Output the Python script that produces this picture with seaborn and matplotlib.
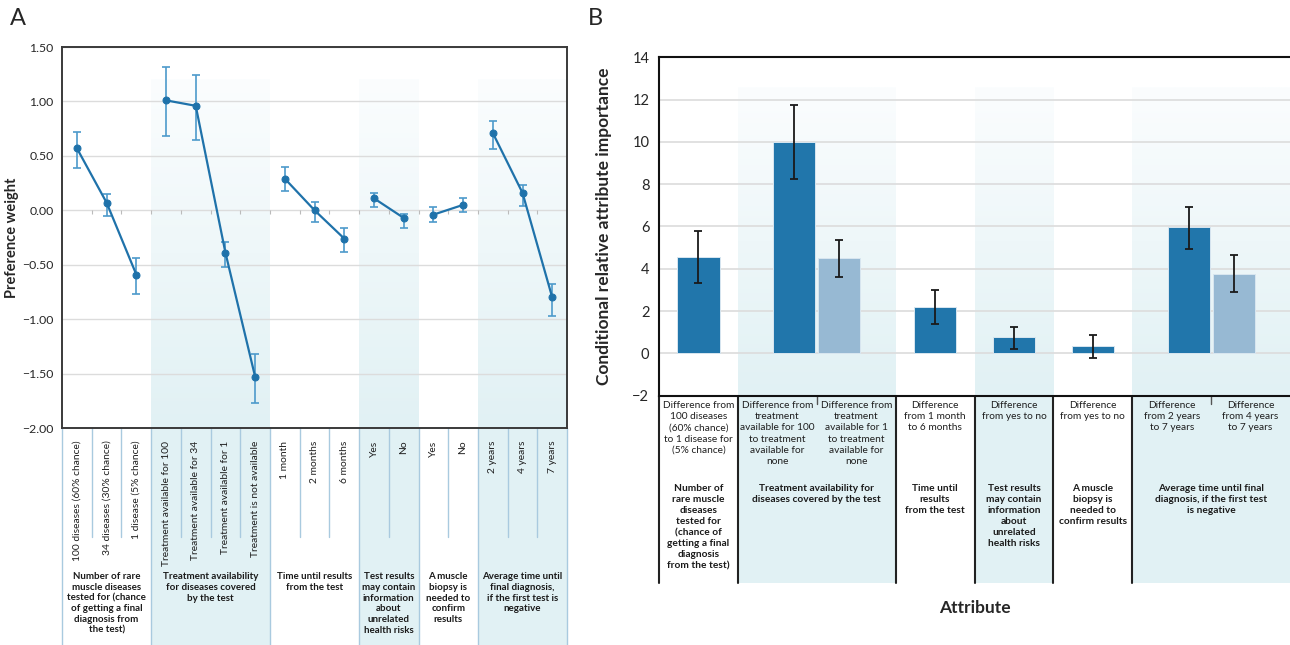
import numpy as np
import pandas as pd
import seaborn as sns
import matplotlib.pyplot as plt
from matplotlib.colors import LinearSegmentedColormap
from matplotlib.patches import Rectangle
from matplotlib.ticker import FuncFormatter

# ---- Panel A: preference weights (point estimate, 95% CI)
levels_a = ['100 diseases (60% chance)', '34 diseases (30% chance)', '1 disease (5% chance)',
            'Treatment available for 100', 'Treatment available for 34',
            'Treatment available for 1', 'Treatment is not available',
            '1 month', '2 months', '6 months',
            'Yes', 'No',
            'Yes', 'No',
            '2 years', '4 years', '7 years']
weight_a = [0.57, 0.07, -0.59, 1.01, 0.96, -0.39, -1.53, 0.29, 0.00, -0.26,
            0.11, -0.07, -0.04, 0.05, 0.71, 0.16, -0.80]
lo_a = [0.39, -0.05, -0.77, 0.68, 0.65, -0.52, -1.77, 0.18, -0.11, -0.38,
        0.03, -0.16, -0.11, -0.02, 0.56, 0.04, -0.97]
hi_a = [0.72, 0.15, -0.44, 1.32, 1.24, -0.29, -1.32, 0.40, 0.08, -0.16,
        0.16, -0.03, 0.03, 0.11, 0.82, 0.23, -0.68]

groups_a = ['Number of rare\nmuscle diseases\ntested for (chance\nof getting a final\ndiagnosis from\nthe test)',
            'Treatment availability\nfor diseases covered\nby the test',
            'Time until results\nfrom the test',
            'Test results\nmay contain\ninformation\nabout\nunrelated\nhealth risks',
            'A muscle\nbiopsy is\nneeded to\nconfirm\nresults',
            'Average time until\nfinal diagnosis,\nif the first test is\nnegative']
group_sizes_a = [3, 4, 3, 2, 2, 3]
shaded = [False, True, False, True, False, True]

# ---- Panel B: conditional relative attribute importance
diff_labels = ['Difference from\n100 diseases\n(60% chance)\nto 1 disease for\n(5% chance)',
               'Difference from\ntreatment\navailable for 100\nto treatment\navailable for\nnone',
               'Difference from\ntreatment\navailable for 1\nto treatment\navailable for\nnone',
               'Difference\nfrom 1 month\nto 6 months',
               'Difference\nfrom yes to no',
               'Difference\nfrom yes to no',
               'Difference\nfrom 2 years\nto 7 years',
               'Difference\nfrom 4 years\nto 7 years']
imp_val = [4.57, 10.01, 4.49, 2.20, 0.76, 0.35, 5.96, 3.75]
imp_lo = [3.33, 8.26, 3.62, 1.39, 0.19, -0.24, 4.92, 2.90]
imp_hi = [5.79, 11.76, 5.35, 3.00, 1.26, 0.87, 6.94, 4.64]
bar_shade = ['dark', 'dark', 'light', 'dark', 'dark', 'dark', 'dark', 'light']
groups_b = ['Number of\nrare muscle\ndiseases\ntested for\n(chance of\ngetting a final\ndiagnosis\nfrom the test)',
            'Treatment availability for\ndiseases covered by the test',
            'Time until\nresults\nfrom the test',
            'Test results\nmay contain\ninformation\nabout\nunrelated\nhealth risks',
            'A muscle\nbiopsy is\nneeded to\nconfirm results',
            'Average time until final\ndiagnosis, if the first test\nis negative']
group_sizes_b = [1, 2, 1, 1, 1, 2]

blue = '#1f72aa'
err_blue = '#4d9acb'
teal = '#e1f1f4'
div_col = '#a9cadf'

sns.set_style('white')
plt.rcParams['font.family'] = ['Lato', 'DejaVu Sans']

shade_cmap = LinearSegmentedColormap.from_list('shade', ['#fbfdfe', teal])
grad = np.linspace(0, 1, 256).reshape(-1, 1)


def shade_column(ax, x0, x1, ytop, ybot, depth):
    ax.imshow(grad, extent=[x0, x1, ybot, ytop], cmap=shade_cmap, aspect='auto',
              origin='upper', zorder=0, interpolation='bilinear')
    ax.add_patch(Rectangle((x0, -depth), x1 - x0, depth, transform=ax.get_xaxis_transform(),
                           facecolor=teal, lw=0, clip_on=False, zorder=0))


fig = plt.figure(figsize=(12.9, 6.45), dpi=100)

# ================= Panel A =================
axa = fig.add_axes([0.0481, 0.3364, 0.3915, 0.5907])
pos_a = np.arange(len(levels_a))
attr_a = np.repeat(np.arange(len(group_sizes_a)), group_sizes_a)
df_a = pd.DataFrame({'pos': pos_a, 'weight': weight_a, 'attr': attr_a})

starts_a = np.concatenate([[0], np.cumsum(group_sizes_a)[:-1]])
depth_a = 0.5696
for s, n, sh in zip(starts_a, group_sizes_a, shaded):
    if sh:
        shade_column(axa, s - 0.5, s + n - 0.5, 1.2, -2.0, depth_a)

axa.errorbar(pos_a, weight_a, yerr=[np.array(weight_a) - np.array(lo_a), np.array(hi_a) - np.array(weight_a)],
             fmt='none', ecolor=err_blue, elinewidth=1.2, capsize=2.6, capthick=1.2, zorder=3)
sns.lineplot(data=df_a, x='pos', y='weight', hue='attr', palette=[blue] * len(group_sizes_a),
             marker='o', markersize=5, markeredgecolor=blue, linewidth=1.6, legend=False,
             ax=axa, zorder=4)

axa.set_xlim(-0.5, len(levels_a) - 0.5)
axa.set_ylim(-2.0, 1.5)
axa.set_yticks(np.arange(-2.0, 1.51, 0.5))
axa.yaxis.set_major_formatter(FuncFormatter(lambda v, p: f'{v:.2f}'.replace('-', '\u2212')))
axa.grid(axis='y', color='#dcdcdc', lw=1)
axa.set_axisbelow(True)
axa.tick_params(axis='y', labelsize=8.8, length=4, width=1, color='#333333', direction='out', pad=2)
axa.set_xticks(pos_a)
axa.set_xticklabels(levels_a, rotation=90, fontsize=7.4, color='#1e1e1e')
axa.tick_params(axis='x', length=0, pad=9)
axa.set_xlabel('')
axa.set_ylabel('Preference weight', fontsize=10.5, fontweight='bold')
axa.yaxis.set_label_coords(-0.086, 0.5)
for sp in axa.spines.values():
    sp.set_color('#3a3a3a')
    sp.set_linewidth(1.4)

# small marks on the zero line between levels
axa.vlines(pos_a[1:] - 0.5, -0.035, 0, color='#bbbbbb', lw=0.8, zorder=1)

# dividers below the axis
trans_a = axa.get_xaxis_transform()
for k in range(len(levels_a) + 1):
    xk = k - 0.5
    if k in list(starts_a) + [len(levels_a)]:
        axa.plot([xk, xk], [0, -depth_a], transform=trans_a, color=div_col, lw=1, clip_on=False)
    else:
        axa.plot([xk, xk], [0, -0.286], transform=trans_a, color=div_col, lw=1, clip_on=False)

for s, n, g in zip(starts_a, group_sizes_a, groups_a):
    axa.text(s + n / 2 - 0.5, -0.378, g, transform=trans_a, ha='center', va='top',
             fontsize=7.0, fontweight='bold', linespacing=1.25, color='#1a1a1a')

# ================= Panel B =================
axb = fig.add_axes([0.5109, 0.3865, 0.4891, 0.5247])
starts_b = np.concatenate([[0], np.cumsum(group_sizes_b)[:-1]])
bar_pos = []
for s, n in zip(starts_b, group_sizes_b):
    if n == 1:
        bar_pos.append(s + 0.5)
    else:
        bar_pos += [s + 1 - 0.285, s + 1 + 0.285]
bar_pos = np.array(bar_pos)
depth_b = 0.554
for s, n, sh in zip(starts_b, group_sizes_b, shaded):
    if sh:
        shade_column(axb, s, s + n, 12.6, -2.0, depth_b)

df_b = pd.DataFrame({'pos': bar_pos, 'importance': imp_val, 'shade': bar_shade})
native_w = np.min(np.diff(np.sort(bar_pos)))
sns.barplot(data=df_b, x='pos', y='importance', hue='shade', palette={'dark': '#2176ab', 'light': '#97b9d3'},
            native_scale=True, width=0.535 / native_w, dodge=False, errorbar=None, legend=False,
            saturation=1, edgecolor='#d8e6f0', linewidth=0.7, ax=axb, zorder=2)
axb.errorbar(bar_pos, imp_val, yerr=[np.array(imp_val) - np.array(imp_lo), np.array(imp_hi) - np.array(imp_val)],
             fmt='none', ecolor='#1a1a1a', elinewidth=1.3, capsize=3, capthick=1.3, zorder=4)

n_cols = sum(group_sizes_b)
axb.set_xlim(0, n_cols)
axb.set_ylim(-2, 14)
axb.set_yticks(np.arange(-2, 15, 2))
axb.yaxis.set_major_formatter(FuncFormatter(lambda v, p: f'{v:.0f}'.replace('-', '\u2212')))
axb.grid(axis='y', color='#dcdcdc', lw=1.2)
axb.set_axisbelow(True)
axb.tick_params(axis='y', labelsize=10.5, length=5, width=1.2, color='#111111', direction='out', pad=2)
axb.set_xticks(np.arange(n_cols) + 0.5)
axb.set_xticklabels(diff_labels, fontsize=7.3, color='#1e1e1e')
for t in axb.get_xticklabels():
    t.set_linespacing(1.3)
    t.set_va('top')
axb.tick_params(axis='x', length=0, pad=4)
axb.set_xlabel('')
axb.set_ylabel('Conditional relative attribute importance', fontsize=12.5, fontweight='bold')
axb.yaxis.set_label_coords(-0.074, 0.5)
axb.spines['right'].set_visible(False)
for side in ['top', 'left', 'bottom']:
    axb.spines[side].set_color('#111111')
    axb.spines[side].set_linewidth(1.5)

trans_b = axb.get_xaxis_transform()
for s in list(starts_b):
    axb.plot([s, s], [0, -depth_b], transform=trans_b, color='#222222', lw=1.5, clip_on=False)
for s, n in zip(starts_b, group_sizes_b):
    if n == 2:
        axb.plot([s + 1, s + 1], [0, -0.024], transform=trans_b, color='#555555', lw=1, clip_on=False)

for s, n, g in zip(starts_b, group_sizes_b, groups_b):
    axb.text(s + n / 2, -0.262, g, transform=trans_b, ha='center', va='top',
             fontsize=7.3, fontweight='bold', linespacing=1.28, color='#1a1a1a')

axb.text(0.5, -0.628, 'Attribute', transform=axb.transAxes, ha='center', va='center',
         fontsize=12.5, fontweight='bold')

fig.text(0.008, 0.971, 'A', fontsize=17, va='center', ha='left')
fig.text(0.456, 0.971, 'B', fontsize=17, va='center', ha='left')

fig.savefig('out.png', dpi=100, facecolor='white')
